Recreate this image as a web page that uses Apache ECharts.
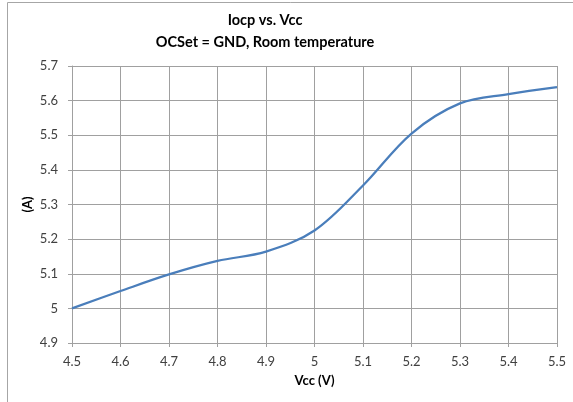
<!DOCTYPE html>
<html>
<head>
<meta charset="utf-8">
<script src="https://cdn.jsdelivr.net/npm/echarts@6/dist/echarts.min.js"></script>
<style>html,body{margin:0;padding:0;background:#fff;}#c{width:573px;height:402px;}</style>
</head>
<body>
<div id="c"></div>
<script>
var vcc = [4.5, 4.6, 4.7, 4.8, 4.9, 5.0, 5.1, 5.2, 5.3, 5.4, 5.5];
var iocp = [5.0, 5.05, 5.098, 5.137, 5.164, 5.225, 5.355, 5.505, 5.592, 5.619, 5.639];
var titleLines = ['Iocp vs. Vcc', 'OCSet = GND, Room temperature'];
var xName = 'Vcc (V)';
var yName = '(A)';

var font = 'Lato, "Open Sans", sans-serif';
var chart = echarts.init(document.getElementById('c'));
chart.setOption({
  animation: false,
  backgroundColor: '#fff',
  grid: {left: 72, right: 16, top: 66, bottom: 59},
  xAxis: {
    type: 'value', min: 4.5, max: 5.5, interval: 0.1,
    name: xName, nameLocation: 'middle', nameGap: 31,
    nameTextStyle: {fontFamily: font, fontSize: 13, fontWeight: 'bold', color: '#000'},
    axisLine: {lineStyle: {color: '#a0a0a0'}},
    axisTick: {show: true, length: 4, lineStyle: {color: '#a0a0a0'}},
    axisLabel: {fontFamily: font, fontSize: 13, color: '#404040', margin: 12,
      formatter: function (v) { return +v.toFixed(1) + ''; }},
    splitLine: {show: true, lineStyle: {color: '#a0a0a0', width: 1}}
  },
  yAxis: {
    type: 'value', min: 4.9, max: 5.7, interval: 0.1,
    name: yName, nameLocation: 'middle', nameGap: 38, nameRotate: 90,
    nameMoveOverlap: false,
    nameTextStyle: {fontFamily: font, fontSize: 13, fontWeight: 'bold', color: '#000'},
    axisLine: {show: true, lineStyle: {color: '#a0a0a0'}},
    axisTick: {show: true, length: 4, lineStyle: {color: '#a0a0a0'}},
    axisLabel: {fontFamily: font, fontSize: 13, color: '#404040', margin: 14,
      formatter: function (v) { return +v.toFixed(1) + ''; }},
    splitLine: {show: true, lineStyle: {color: '#a0a0a0', width: 1}}
  },
  series: [{
    type: 'line',
    data: vcc.map(function (x, i) { return [x, iocp[i]]; }),
    smooth: 0.35,
    symbol: 'none',
    lineStyle: {color: '#4a7ebb', width: 2.25}
  }],
  graphic: [{
    type: 'rect', shape: {x: 7.5, y: 2.5, width: 600, height: 450},
    style: {fill: null, stroke: '#a6a6a6', lineWidth: 1}, silent: true
  }, {
    type: 'text', x: 265, y: 20, silent: true,
    style: {text: titleLines[0], textAlign: 'center', textVerticalAlign: 'middle',
      font: 'bold 14.5px ' + font, fill: '#000'}
  }, {
    type: 'text', x: 265, y: 42, silent: true,
    style: {text: titleLines[1], textAlign: 'center', textVerticalAlign: 'middle',
      font: 'bold 14.5px ' + font, fill: '#000'}
  }]
});
</script>
</body>
</html>
